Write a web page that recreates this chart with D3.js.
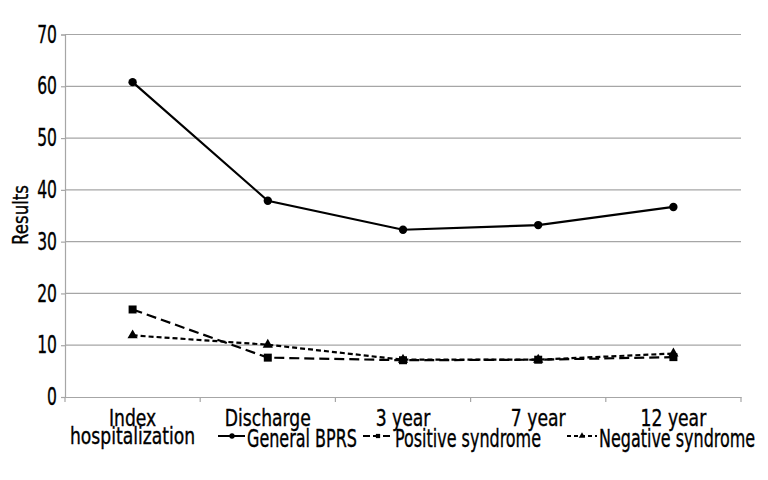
<!DOCTYPE html>
<html lang="en">
<head>
<meta charset="UTF-8">
<title>BPRS</title>
<script src="https://cdn.jsdelivr.net/npm/d3@7"></script>
<style>
	html,body{margin:0;padding:0;background:#fff;}
	svg{display:block;}
	text{font-family:"DejaVu Sans Condensed","DejaVu Sans",sans-serif;font-stretch:condensed;fill:#000;stroke:#000;stroke-width:0.35px;}
</style>
</head>
<body>
<svg id="svg" width="768" height="480"></svg>
<script>
	var categories = ["Index hospitalization","Discharge","3 year","7 year","12 year"];
	var yTicks = [0,10,20,30,40,50,60,70];
	var general = [60.8,37.9,32.3,33.2,36.7];
	var positive = [16.9,7.6,7.1,7.2,7.7];
	var negative = [11.9,10.1,7.2,7.2,8.4];
	var seriesNames = ["General BPRS","Positive syndrome","Negative syndrome"];

	var svg = d3.select("svg"),
		pLeft = 65, pRight = 741, pTop = 34.5, pBottom = 397;

	// squeeze glyphs to look like the narrow font of the original
	function squeeze(sel,f){
		sel.each(function(){
			var len = this.getComputedTextLength();
			d3.select(this).attr("textLength",len*f).attr("lengthAdjust","spacingAndGlyphs");
		});
	}

	var x = d3.scaleBand().domain(categories).range([pLeft,pRight]);
	var y = d3.scaleLinear().domain([0,70]).range([pBottom,pTop]);

	// grid
	svg.append("g").selectAll("line")
		.data(yTicks.filter(d=>d>0))
		.enter().append("line")
		.attr("x1",pLeft).attr("x2",pRight)
		.attr("y1",d=>y(d)).attr("y2",d=>y(d))
		.attr("stroke","#a6a6a6").attr("stroke-width",1.2);

	// y axis
	var yAxis = svg.append("g")
		.attr("transform","translate("+pLeft+",0)")
		.call(d3.axisLeft(y).tickValues(yTicks).tickSize(4).tickPadding(4));
	yAxis.select(".domain").attr("stroke","#a6a6a6").attr("stroke-width",1.2);
	yAxis.selectAll(".tick line").attr("stroke","#a6a6a6").attr("stroke-width",1.2);
	yAxis.selectAll("text").style("font-size","24px").style("font-family",null).attr("fill","#000");
	squeeze(yAxis.selectAll("text"),0.72);

	// x axis
	var xAxis = svg.append("g")
		.attr("transform","translate(0,"+pBottom+")")
		.call(d3.axisBottom(x).tickSize(0).tickFormat(""));
	xAxis.select(".domain").attr("stroke","#a6a6a6").attr("stroke-width",1.2);
	xAxis.selectAll(".tick").remove();
	svg.append("g").selectAll("line")
		.data(categories.concat(["end"]))
		.enter().append("line")
		.attr("x1",(d,i)=>pLeft+i*x.bandwidth()).attr("x2",(d,i)=>pLeft+i*x.bandwidth())
		.attr("y1",pBottom).attr("y2",pBottom+5)
		.attr("stroke","#a6a6a6").attr("stroke-width",1.2);

	var catLabels = svg.append("g").selectAll("text")
		.data(categories)
		.enter().append("text")
		.attr("text-anchor","middle")
		.style("font-size","23px")
		.attr("y",pBottom+29);
	catLabels.each(function(d){
		var words = d==="Index hospitalization" ? ["Index","hospitalization"] : [d];
		var t = d3.select(this);
		words.forEach((w,i)=>{
			t.append("tspan").attr("x",x(d)+x.bandwidth()/2).attr("dy",i?18:0).text(w);
		});
	});
	squeeze(catLabels.selectAll("tspan"),0.83);

	// y title
	var yTitle = svg.append("text")
		.attr("transform","translate(28,215) rotate(-90)")
		.attr("text-anchor","middle")
		.style("font-size","21px")
		.text("Results");
	squeeze(yTitle,0.88);

	var cx = d=>x(d)+x.bandwidth()/2;
	var line = d3.line().x(d=>cx(d.c)).y(d=>y(d.v));
	var series = [
		{name:seriesNames[0],vals:general,dash:null,marker:"circle"},
		{name:seriesNames[1],vals:positive,dash:"10,5",marker:"square"},
		{name:seriesNames[2],vals:negative,dash:"5,3",marker:"triangle"}
	];
	var sym = {circle:d3.symbolCircle,square:d3.symbolSquare,triangle:d3.symbolTriangle};
	var size = {circle:55,square:64,triangle:45};

	series.forEach(s=>{
		var pts = s.vals.map((v,i)=>({c:categories[i],v:v}));
		svg.append("path").datum(pts)
			.attr("d",line).attr("fill","none")
			.attr("stroke","#000").attr("stroke-width",2.2)
			.attr("stroke-dasharray",s.dash);
		svg.append("g").selectAll("path").data(pts).enter().append("path")
			.attr("d",d3.symbol().type(sym[s.marker]).size(size[s.marker]))
			.attr("transform",d=>"translate("+cx(d.c)+","+y(d.v)+")")
			.attr("fill","#000");
	});

	// legend
	var legX = [218,363,567], legY = 436;
	series.forEach((s,i)=>{
		var g = svg.append("g").attr("transform","translate("+legX[i]+","+legY+")");
		g.append("line").attr("x1",0).attr("x2",i===0?27:30).attr("y1",0).attr("y2",0)
			.attr("stroke","#000").attr("stroke-width",2)
			.attr("stroke-dasharray",s.dash ? (i===1?"7,3":"4,3") : null);
		g.append("path").attr("d",d3.symbol().type(sym[s.marker]).size(s.marker==="circle"?22:18))
			.attr("transform","translate("+(i===0?14:15)+",0)").attr("fill","#000");
		var t = g.append("text").attr("x",i===0?29:32).attr("y",11).style("font-size","24px").text(s.name);
		squeeze(t,0.74);
	});
</script>
</body>
</html>
